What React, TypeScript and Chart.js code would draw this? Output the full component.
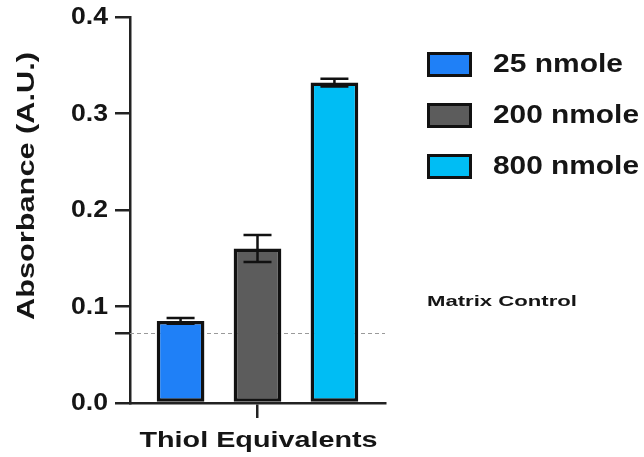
import React, { useEffect, useRef } from "react";
import { Chart, registerables } from "chart.js";

Chart.register(...registerables);

const categories = ["Thiol Equivalents"];
const seriesLabels = ["25 nmole", "200 nmole", "800 nmole"];
const seriesValues = [0.085, 0.16, 0.332];
const seriesErrors = [0.003, 0.014, 0.004];
const seriesColors = ["#1f80f7", "#5c5c5c", "#00bdf4"];
const controlValue = [0.0725];
const controlLabel = "Matrix Control";
const yTicks = [0, 0.1, 0.2, 0.3, 0.4];
const yTitle = "Absorbance (A.U.)";

const INK = "#151515";
const FONT = "'Liberation Sans', Arial, sans-serif";

function stretchText(
  ctx: CanvasRenderingContext2D,
  text: string,
  x: number,
  y: number,
  size: number,
  targetWidth: number,
  align: "left" | "center" | "right",
  rotate = 0
) {
  ctx.save();
  ctx.font = `bold ${size}px ${FONT}`;
  ctx.fillStyle = INK;
  ctx.textBaseline = "middle";
  const w = ctx.measureText(text).width;
  const sx = targetWidth / w;
  ctx.translate(x, y);
  if (rotate) ctx.rotate(rotate);
  ctx.scale(sx, 1);
  ctx.textAlign = align;
  ctx.fillText(text, 0, 0);
  ctx.restore();
}

const overlayPlugin = {
  id: "overlay",
  beforeDatasetsDraw(chart: any) {
    const ctx: CanvasRenderingContext2D = chart.ctx;
    const y = chart.scales.y;
    const area = chart.chartArea;
    // control dashed line (behind bars)
    ctx.save();
    ctx.strokeStyle = "#9a9a9a";
    ctx.lineWidth = 1;
    ctx.setLineDash([4, 3]);
    const cy = Math.round(y.getPixelForValue(controlValue[0])) + 0.5;
    ctx.beginPath();
    ctx.moveTo(area.left, cy);
    ctx.lineTo(area.right, cy);
    ctx.stroke();
    ctx.restore();
  },
  afterDatasetsDraw(chart: any) {
    const ctx: CanvasRenderingContext2D = chart.ctx;
    const y = chart.scales.y;
    // error bars
    ctx.save();
    ctx.strokeStyle = "#111";
    ctx.lineWidth = 2.5;
    seriesValues.forEach((v, i) => {
      const meta = chart.getDatasetMeta(i);
      const bar = meta.data[0];
      if (!bar) return;
      const bx = bar.x;
      const top = y.getPixelForValue(v + seriesErrors[i]);
      const bot = y.getPixelForValue(v - seriesErrors[i]);
      const half = 14;
      ctx.beginPath();
      ctx.moveTo(bx, top);
      ctx.lineTo(bx, bot);
      ctx.moveTo(bx - half, top);
      ctx.lineTo(bx + half, top);
      ctx.moveTo(bx - half, bot);
      ctx.lineTo(bx + half, bot);
      ctx.stroke();
    });
    ctx.restore();
  },
  afterDraw(chart: any) {
    const ctx: CanvasRenderingContext2D = chart.ctx;
    const y = chart.scales.y;
    const x = chart.scales.x;
    const area = chart.chartArea;

    // y tick labels
    y.ticks.forEach((t: any) => {
      if (!yTicks.some((v) => Math.abs(v - t.value) < 1e-9)) return;
      const label = t.value.toFixed(1);
      stretchText(ctx, label, area.left - 22, y.getPixelForValue(t.value) + 1, 23, 37, "right");
    });

    // y title
    stretchText(ctx, yTitle, 28, (area.top + area.bottom) / 2 - 24, 23, 268, "center", -Math.PI / 2);

    // x category label
    categories.forEach((c, i) => {
      const px = x.getPixelForValue(i);
      stretchText(ctx, c, px + 1, area.bottom + 38, 22, 238, "center");
    });

    // legend
    const lx = area.right + 42;
    const ly0 = area.top + 35;
    const step = 51;
    const widths = [130, 146, 146];
    seriesLabels.forEach((lab, i) => {
      const top = ly0 + i * step;
      ctx.save();
      ctx.fillStyle = seriesColors[i];
      ctx.fillRect(lx, top, 45, 25);
      ctx.strokeStyle = "#111";
      ctx.lineWidth = 3;
      ctx.strokeRect(lx + 1.5, top + 1.5, 42, 22);
      ctx.restore();
      stretchText(ctx, lab, lx + 66, top + 13, 25, widths[i], "left");
    });

    // matrix control label
    stretchText(ctx, controlLabel, lx, y.getPixelForValue(controlValue[0]) - 31, 15, 150, "left");
  },
};

export default function App() {
  const ref = useRef<HTMLCanvasElement | null>(null);
  useEffect(() => {
    if (!ref.current) return;
    const chart = new Chart(ref.current, {
      type: "bar",
      data: {
        labels: categories,
        datasets: seriesLabels.map((lab, i) => ({
          label: lab,
          data: [seriesValues[i]],
          backgroundColor: seriesColors[i],
          borderColor: "#111",
          borderWidth: 3.5,
          borderSkipped: false,
          barPercentage: 0.62,
          categoryPercentage: 0.905,
        })),
      },
      options: {
        animation: false,
        responsive: true,
        maintainAspectRatio: false,
        layout: { padding: { left: 0, top: 17, right: 259, bottom: 0 } },
        plugins: {
          legend: { display: false },
          tooltip: { enabled: false },
        },
        scales: {
          x: {
            type: "category",
            offset: true,
            ticks: { display: false },
            grid: {
              display: true,
              drawOnChartArea: false,
              offset: false,
              tickLength: 15,
              color: "#222",
              lineWidth: 2.5,
            },
            border: { display: true, color: "#222", width: 2.5 },
            afterFit: (s: any) => {
              s.height = 54;
            },
          },
          y: {
            min: 0,
            max: 0.4,
            ticks: { display: false, stepSize: 0.1 },
            afterBuildTicks: (s: any) => {
              s.ticks = yTicks.map((v) => ({ value: v }));
              s.ticks.push({ value: controlValue[0] });
              s.ticks.sort((a: any, b: any) => a.value - b.value);
            },
            grid: {
              display: true,
              drawOnChartArea: false,
              tickLength: 15,
              color: "#222",
              lineWidth: 2.5,
            },
            border: { display: true, color: "#222", width: 2.5 },
            afterFit: (s: any) => {
              s.width = 130;
            },
          },
        },
      },
      plugins: [overlayPlugin],
    });
    return () => chart.destroy();
  }, []);
  return (
    <div style={{ position: "fixed", left: 0, top: 0, width: 644, height: 457, background: "#fff" }}>
      <canvas ref={ref} />
    </div>
  );
}
